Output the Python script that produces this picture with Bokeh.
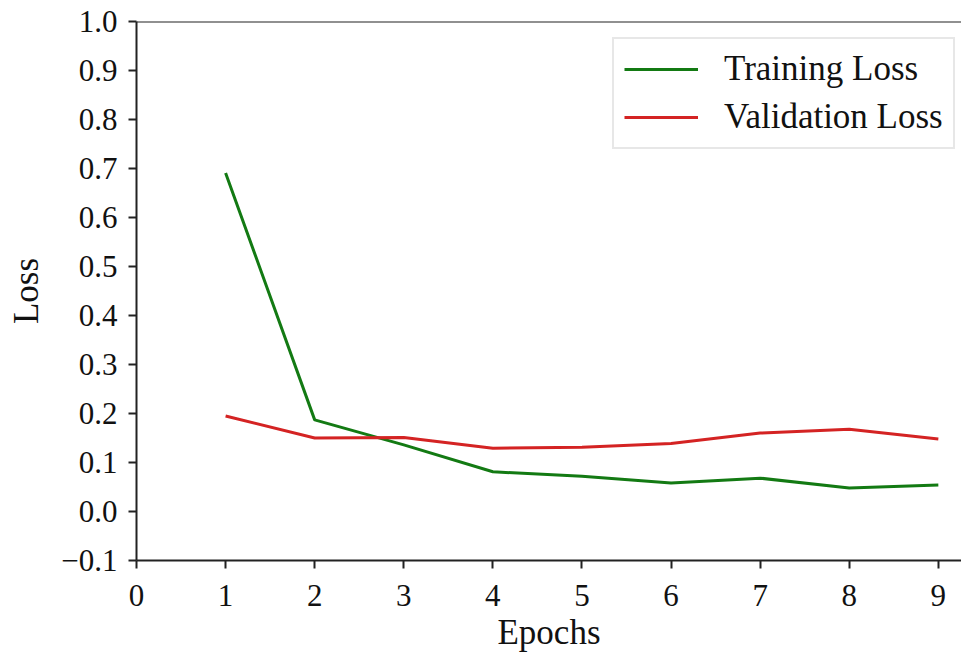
from bokeh.plotting import figure
from bokeh.models import (Range1d, FixedTicker, CustomJSTickFormatter, Legend, LegendItem, Span)
from bokeh.embed import file_html
from bokeh.resources import INLINE

epochs = [1, 2, 3, 4, 5, 6, 7, 8, 9]
training_loss = [0.691, 0.187, 0.136, 0.081, 0.072, 0.058, 0.068, 0.048, 0.054]
validation_loss = [0.195, 0.150, 0.151, 0.129, 0.131, 0.139, 0.160, 0.168, 0.148]
x_ticks = [0, 1, 2, 3, 4, 5, 6, 7, 8, 9]
y_ticks = [-0.1, 0.0, 0.1, 0.2, 0.3, 0.4, 0.5, 0.6, 0.7, 0.8, 0.9, 1.0]

FONT = "Liberation Serif"
AX = "#222222"

p = figure(width=961, height=654, output_backend="svg", toolbar_location=None,
           x_range=Range1d(0, 9.26), y_range=Range1d(-0.1, 1.0),
           min_border_left=136, min_border_top=21, min_border_bottom=91, min_border_right=0)
p.background_fill_color = "white"
p.border_fill_color = "white"
p.outline_line_color = None
p.xgrid.visible = False
p.ygrid.visible = False

tr = p.line(epochs, training_loss, line_color="#137a13", line_width=3)
va = p.line(epochs, validation_loss, line_color="#d42323", line_width=3)

p.add_layout(Span(location=1.0, dimension="width", line_color=AX, line_width=2))

fmt = CustomJSTickFormatter(code="return (Math.abs(tick) < 1e-9 ? 0 : tick).toFixed(1).replace('-', '\u2212');")

for ax in (p.xaxis[0], p.yaxis[0]):
    ax.axis_line_color = AX
    ax.axis_line_width = 2
    ax.major_tick_line_color = AX
    ax.major_tick_line_width = 2
    ax.major_tick_out = 8
    ax.major_tick_in = 0
    ax.minor_tick_line_color = None
    ax.major_label_text_font = FONT
    ax.major_label_text_font_size = "31px"
    ax.major_label_text_color = "#111111"
    ax.axis_label_text_font = FONT
    ax.axis_label_text_font_size = "35px"
    ax.axis_label_text_font_style = "normal"
    ax.axis_label_text_color = "#111111"

p.xaxis[0].ticker = FixedTicker(ticks=x_ticks)
p.yaxis[0].ticker = FixedTicker(ticks=y_ticks)
p.yaxis[0].formatter = fmt
p.xaxis[0].axis_label = "Epochs"
p.yaxis[0].axis_label = "Loss"
p.xaxis[0].major_label_standoff = 16
p.yaxis[0].major_label_standoff = 11
p.xaxis[0].axis_label_standoff = 4
p.yaxis[0].axis_label_standoff = 12

legend = Legend(items=[LegendItem(label="Training Loss", renderers=[tr]),
                       LegendItem(label="Validation Loss", renderers=[va])],
                location=(476, 411))
legend.label_text_font = FONT
legend.label_text_font_size = "35px"
legend.label_text_color = "#111111"
legend.glyph_width = 74
legend.glyph_height = 40
legend.label_height = 40
legend.label_standoff = 26
legend.spacing = 8
legend.padding = 10
legend.margin = 0
legend.border_line_color = "#d0d0d0"
legend.border_line_width = 2
legend.background_fill_color = "white"
legend.background_fill_alpha = 1.0
p.add_layout(legend)

open("out.html", "w").write(file_html(p, INLINE))
